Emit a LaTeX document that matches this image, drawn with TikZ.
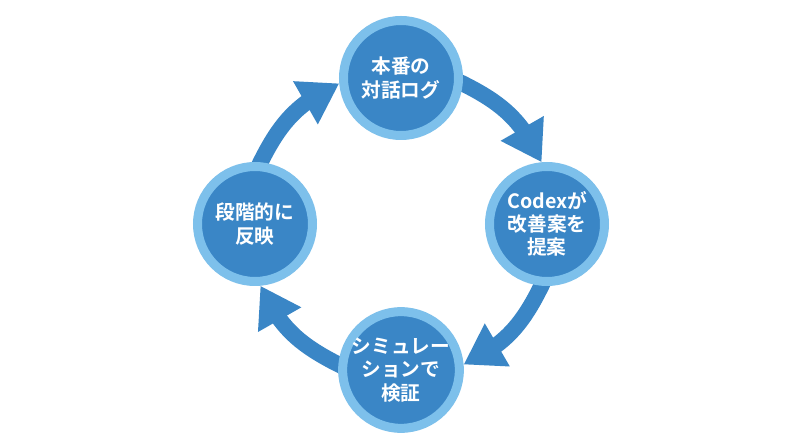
\documentclass[tikz,border=0pt]{standalone}
\usepackage{fontspec}
\newfontfamily\jpfont{Noto Sans CJK JP}[BoldFont={Noto Sans CJK JP Bold}]
\usepackage{xcolor}
\usepackage{tikz}
\usetikzlibrary{arrows.meta,bending,backgrounds,calc}

\definecolor{cycleblue}{RGB}{58,134,198}
\definecolor{ringblue}{RGB}{125,192,235}

\begin{document}
\begin{tikzpicture}[
    stage/.style={circle, fill=cycleblue, draw=ringblue, line width=0.225cm,
        minimum size=2.875cm, inner sep=0pt, align=center, text=white,
        font=\jpfont\bfseries\fontsize{14}{16.5}\selectfont},
    flowarrow/.style={draw=cycleblue, line width=0.4cm, shorten <=-0.3cm,
        -{Triangle[length=0.975cm, width=1.175cm, flex]}}
]
    % Canvas, 800 x 447 px at 1px = 0.025cm
    \coordinate (sw) at (-10.025,-5.575);
    \coordinate (ne) at (9.975,5.6);
    \useasboundingbox (sw) rectangle (ne);

    % Stages around the loop
    \node[stage] (log)   at (90:3.65)  {本番の\\対話ログ};
    \node[stage] (codex) at (0:3.65)   {Codexが\\改善案を\\提案};
    \node[stage] (sim)   at (-90:3.65) {シミュレー\\ションで\\検証};
    \node[stage] (apply) at (180:3.65) {段階的に\\反映};

    % Arrows, behind the stages
    \begin{scope}[on background layer]
        \fill[white] (sw) rectangle (ne);
        \draw[flowarrow] (log.-5)    to[bend left=20] (codex.95);
        \draw[flowarrow] (codex.-95) to[bend left=20] (sim.5);
        \draw[flowarrow] (sim.175)   to[bend left=20] (apply.-85);
        \draw[flowarrow] (apply.85)  to[bend left=20] (log.185);
    \end{scope}
\end{tikzpicture}
\end{document}
